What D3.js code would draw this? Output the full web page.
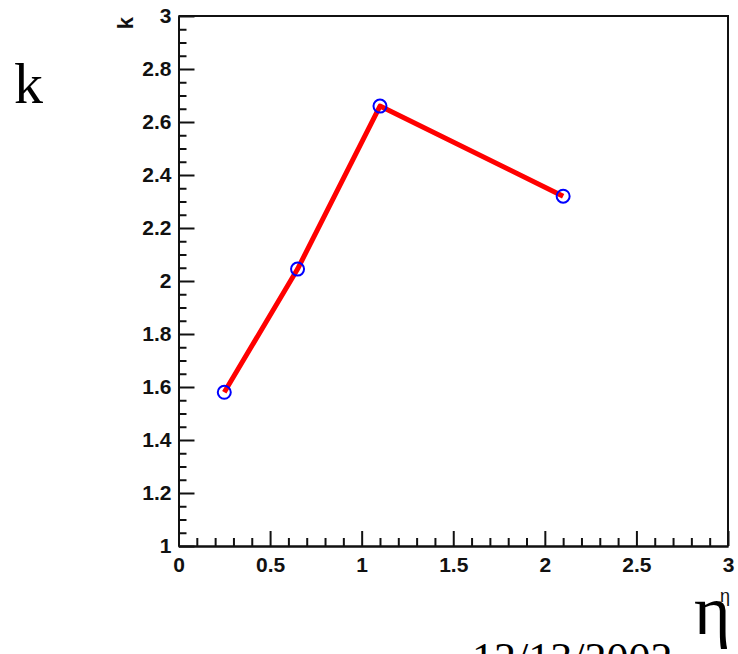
<!DOCTYPE html>
<html>
<head>
<meta charset="utf-8">
<script src="https://cdn.jsdelivr.net/npm/d3@7"></script>
<style>
  html, body { margin: 0; padding: 0; background: #fff; }
  svg { display: block; }
  .tick text { font-family: "Liberation Sans", Arial, sans-serif; font-weight: bold; font-size: 21px; fill: #111; }
</style>
</head>
<body>
<svg id="chart" width="738" height="654"></svg>
<script>
// k versus eta measurements
const etaValues = [0.25, 0.65, 1.1, 2.1];
const kValues = [1.58, 2.045, 2.66, 2.32];

// Axis tick positions
const xMajorTicks = [0, 0.5, 1, 1.5, 2, 2.5, 3];
const yMajorTicks = [1, 1.2, 1.4, 1.6, 1.8, 2, 2.2, 2.4, 2.6, 2.8, 3];
const xMinorTicks = d3.range(0, 31).map(i => i / 10).filter(v => Math.abs(v * 2 - Math.round(v * 2)) > 1e-6);
const yMinorTicks = d3.range(0, 41).map(i => 1 + i / 20).filter(v => Math.abs(v * 5 - Math.round(v * 5)) > 1e-6);

const svg = d3.select("#chart");
const frame = { left: 178.5, right: 728, top: 16, bottom: 546 };

const x = d3.scaleLinear().domain([0, 3]).range([frame.left, frame.right]);
const y = d3.scaleLinear().domain([1, 3]).range([frame.bottom, frame.top]);

// Frame (top and right edges)
svg.append("path")
  .attr("d", `M${frame.left},${frame.top}H${frame.right}V${frame.bottom}`)
  .attr("fill", "none").attr("stroke", "#111").attr("stroke-width", 2);

const fmt = d => d3.format("~g")(d);

// X axis
const gx = svg.append("g").attr("transform", `translate(0,${frame.bottom})`);
gx.call(d3.axisBottom(x).tickValues(xMajorTicks).tickSizeInner(-15).tickSizeOuter(0).tickPadding(11).tickFormat(fmt));
gx.append("g").call(d3.axisBottom(x).tickValues(xMinorTicks).tickSizeInner(-8).tickSizeOuter(0).tickFormat(""));
gx.selectAll(".domain").attr("stroke", "#111").attr("stroke-width", 2);
gx.selectAll(".tick line").attr("stroke", "#111").attr("stroke-width", 2);

// Y axis
const gy = svg.append("g").attr("transform", `translate(${frame.left},0)`);
gy.call(d3.axisLeft(y).tickValues(yMajorTicks).tickSizeInner(-16).tickSizeOuter(0).tickPadding(7).tickFormat(fmt));
gy.append("g").call(d3.axisLeft(y).tickValues(yMinorTicks).tickSizeInner(-8).tickSizeOuter(0).tickFormat(""));
gy.selectAll(".domain").attr("stroke", "#111").attr("stroke-width", 2);
gy.selectAll(".tick line").attr("stroke", "#111").attr("stroke-width", 2);

// Data line
const pts = etaValues.map((e, i) => [e, kValues[i]]);
svg.append("path")
  .datum(pts)
  .attr("d", d3.line().x(d => x(d[0])).y(d => y(d[1])))
  .attr("fill", "none").attr("stroke", "#ff0000").attr("stroke-width", 5)
  .attr("stroke-linejoin", "round");

// Open circle markers
svg.selectAll("circle.pt").data(pts).join("circle")
  .attr("class", "pt")
  .attr("cx", d => x(d[0])).attr("cy", d => y(d[1]))
  .attr("r", 6.5)
  .attr("fill", "none").attr("stroke", "#0000ff").attr("stroke-width", 2);

// Small axis titles
svg.append("text")
  .attr("transform", "translate(133,23) rotate(-90)")
  .attr("text-anchor", "middle")
  .attr("font-family", "Liberation Sans, Arial, sans-serif")
  .attr("font-weight", "bold").attr("font-size", 22).attr("fill", "#111")
  .text("k");
svg.append("text")
  .attr("x", 730).attr("y", 602)
  .attr("text-anchor", "end")
  .attr("font-family", "Liberation Sans, Arial, sans-serif")
  .attr("font-size", 18).attr("fill", "#111")
  .text("η");

// Large titles
svg.append("text")
  .attr("x", 14).attr("y", 103)
  .attr("font-family", "Liberation Serif, Times New Roman, serif")
  .attr("font-size", 58).attr("fill", "#000")
  .text("k");
svg.append("text")
  .attr("x", 694).attr("y", 634)
  .attr("font-family", "Liberation Serif, Times New Roman, serif")
  .attr("font-size", 70).attr("fill", "#000")
  .text("η");

// Date stamp
svg.append("text")
  .attr("x", 472).attr("y", 673)
  .attr("font-family", "Liberation Serif, Times New Roman, serif")
  .attr("font-size", 44).attr("fill", "#000")
  .text("12/13/2002");
</script>
</body>
</html>
